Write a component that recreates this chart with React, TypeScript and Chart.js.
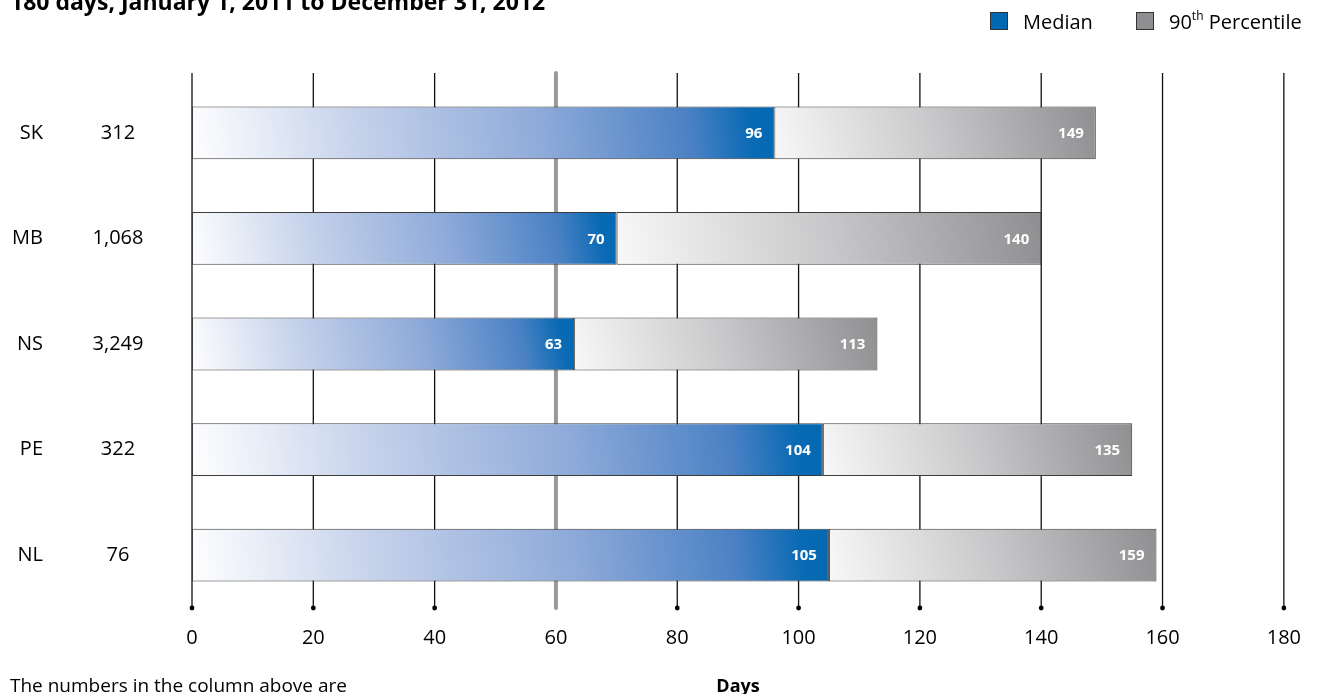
import React, { useEffect, useRef } from "react";
import { Chart, registerables } from "chart.js";

Chart.register(...registerables);

const categories = ["SK", "MB", "NS", "PE", "NL"];
const counts = ["312", "1,068", "3,249", "322", "76"];
const medians = [96, 70, 63, 104, 105];
const p90Ends = [149, 140, 113, 155, 159];
const p90Labels = ["149", "140", "113", "135", "159"];
const xTicks = [0, 20, 40, 60, 80, 100, 120, 140, 160, 180];
const referenceLine = 60;
const title = "180 days, January 1, 2011 to December 31, 2012";
const footerLeft = "The numbers in the column above are";
const axisTitle = "Days";

const FONT = "'Open Sans', sans-serif";

function gradientFor(ctx: any, kind: "median" | "p90") {
  const chart = ctx.chart;
  const fallback = kind === "median" ? "#0068b3" : "#a0a0a3";
  if (ctx.type !== "data" || !chart.chartArea) return fallback;
  const xs = chart.scales.x;
  const ys = chart.scales.y;
  if (!xs || !ys) return fallback;
  const raw = ctx.raw as [number, number];
  const x0 = xs.getPixelForValue(raw[0]);
  const x1 = xs.getPixelForValue(raw[1]);
  const yc = ys.getPixelForValue(ctx.dataIndex);
  const h = 40;
  if (!isFinite(x0) || !isFinite(x1) || !isFinite(yc)) return fallback;
  const g = chart.ctx.createLinearGradient(x0, yc + h, x1, yc - h);
  if (kind === "median") {
    g.addColorStop(0, "#ffffff");
    g.addColorStop(0.3, "#c3d0ea");
    g.addColorStop(0.6, "#8eaad9");
    g.addColorStop(0.85, "#4a81c4");
    g.addColorStop(0.95, "#0a6ab4");
    g.addColorStop(1, "#0068b3");
  } else {
    g.addColorStop(0, "#f9f9f9");
    g.addColorStop(0.5, "#c8c8ca");
    g.addColorStop(1, "#8e8e91");
  }
  return g;
}

const decorPlugin = {
  id: "decor",
  beforeDatasetsDraw(chart: any) {
    const { ctx, chartArea, scales } = chart;
    const xs = scales.x;
    const top = 73;
    const bottom = chartArea.bottom;
    ctx.save();
    xTicks.forEach((v) => {
      const x = xs.getPixelForValue(v);
      if (v === referenceLine) {
        ctx.strokeStyle = "#999999";
        ctx.lineWidth = 4;
        ctx.lineCap = "round";
      } else {
        ctx.strokeStyle = "#111111";
        ctx.lineWidth = 1.3;
        ctx.lineCap = "butt";
      }
      ctx.beginPath();
      ctx.moveTo(x, top);
      ctx.lineTo(x, bottom);
      ctx.stroke();
      if (v !== referenceLine) {
        ctx.fillStyle = "#000000";
        ctx.beginPath();
        ctx.arc(x, bottom, 2.4, 0, Math.PI * 2);
        ctx.fill();
      }
    });
    ctx.restore();
  },
  afterDatasetsDraw(chart: any) {
    const { ctx } = chart;
    const m0 = chart.getDatasetMeta(0);
    const m1 = chart.getDatasetMeta(1);
    ctx.save();
    ctx.fillStyle = "#ffffff";
    ctx.font = `bold 15px ${FONT}`;
    ctx.textAlign = "right";
    ctx.textBaseline = "middle";
    m0.data.forEach((bar: any, i: number) => {
      ctx.fillText(String(medians[i]), bar.x - 12, bar.y + 1);
    });
    m1.data.forEach((bar: any, i: number) => {
      ctx.fillText(p90Labels[i], bar.x - 12, bar.y + 1);
    });

    // left columns
    ctx.fillStyle = "#000000";
    ctx.font = `20px ${FONT}`;
    m0.data.forEach((bar: any, i: number) => {
      ctx.textAlign = "right";
      ctx.fillText(categories[i], 43, bar.y);
      ctx.textAlign = "center";
      ctx.fillText(counts[i], 118, bar.y);
    });

    // title
    ctx.textAlign = "left";
    ctx.textBaseline = "alphabetic";
    ctx.font = `bold 23px ${FONT}`;
    ctx.fillText(title, 10, 10);

    // legend
    ctx.lineWidth = 1;
    ctx.strokeStyle = "#333333";
    ctx.fillStyle = "#0068b3";
    ctx.fillRect(990.5, 12.5, 17, 17);
    ctx.strokeRect(990.5, 12.5, 17, 17);
    ctx.fillStyle = "#8f8f92";
    ctx.fillRect(1136.5, 12.5, 17, 17);
    ctx.strokeRect(1136.5, 12.5, 17, 17);
    ctx.fillStyle = "#000000";
    ctx.font = `20px ${FONT}`;
    ctx.textBaseline = "alphabetic";
    ctx.fillText("Median", 1023, 29);
    let x = 1169;
    ctx.fillText("90", x, 29);
    x += ctx.measureText("90").width;
    ctx.font = `12px ${FONT}`;
    ctx.fillText("th", x, 20);
    x += ctx.measureText("th").width;
    ctx.font = `20px ${FONT}`;
    ctx.fillText(" Percentile", x, 29);

    // footer
    ctx.font = `19px ${FONT}`;
    ctx.fillText(footerLeft, 10, 692);
    ctx.font = `bold 18px ${FONT}`;
    ctx.textAlign = "center";
    ctx.fillText(axisTitle, 738, 692);
    ctx.restore();
  },
};

export default function App() {
  const ref = useRef<HTMLCanvasElement | null>(null);
  useEffect(() => {
    if (!ref.current) return;
    const chart = new Chart(ref.current, {
      type: "bar",
      data: {
        labels: categories,
        datasets: [
          {
            label: "Median",
            data: medians.map((m) => [0, m]) as any,
            backgroundColor: (c: any) => gradientFor(c, "median"),
            borderColor: "#3c3c3c",
            borderWidth: 1,
            borderSkipped: false,
            grouped: false,
            categoryPercentage: 1,
            barPercentage: 0.5,
            order: 1,
          },
          {
            label: "90th Percentile",
            data: medians.map((m, i) => [m, p90Ends[i]]) as any,
            backgroundColor: (c: any) => gradientFor(c, "p90"),
            borderColor: "#3c3c3c",
            borderWidth: 1,
            borderSkipped: false,
            grouped: false,
            categoryPercentage: 1,
            barPercentage: 0.5,
            order: 2,
          },
        ],
      },
      options: {
        indexAxis: "y",
        animation: false,
        responsive: true,
        maintainAspectRatio: false,
        layout: { padding: { left: 192, right: 32, top: 80, bottom: 26 } },
        plugins: {
          legend: { display: false },
          tooltip: { enabled: false },
          title: { display: false },
        },
        scales: {
          x: {
            type: "linear",
            min: 0,
            max: 180,
            afterBuildTicks: (axis: any) => {
              axis.ticks = xTicks.map((v) => ({ value: v }));
            },
            grid: { display: false, drawTicks: false },
            border: { display: false },
            ticks: {
              color: "#000000",
              padding: 18,
              font: { family: "'Open Sans', sans-serif", size: 20 },
            },
          },
          y: {
            type: "category",
            display: false,
            grid: { display: false },
          },
        },
      },
      plugins: [decorPlugin],
    } as any);
    return () => chart.destroy();
  }, []);
  return (
    <div style={{ position: "fixed", left: 0, top: 0, width: 1319, height: 694, background: "#ffffff" }}>
      <canvas ref={ref} />
    </div>
  );
}
